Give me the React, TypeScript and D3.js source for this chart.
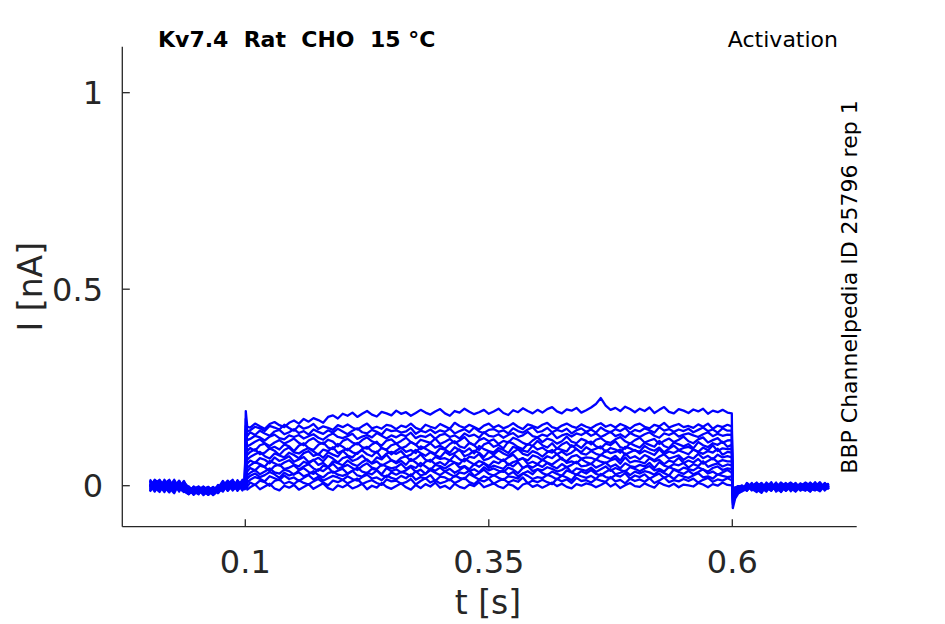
import React from "react";
import * as d3 from "d3";

// ---- sample times (s) ----
const TIME_PRE = [
  0.002, 0.007, 0.012, 0.017, 0.022, 0.027, 0.032, 0.037, 0.042, 0.047, 0.052, 0.057, 0.062, 0.067,
  0.072, 0.077, 0.082, 0.087, 0.092, 0.097, 0.0995,
];
const TIME_STEP = [
  0.1005, 0.102,
  0.105, 0.11, 0.115, 0.12, 0.125, 0.13, 0.135, 0.14, 0.145, 0.15,
  0.155, 0.16, 0.165, 0.17, 0.175, 0.18, 0.185, 0.19, 0.195, 0.2,
  0.205, 0.21, 0.215, 0.22, 0.225, 0.23, 0.235, 0.24, 0.245, 0.25,
  0.255, 0.26, 0.265, 0.27, 0.275, 0.28, 0.285, 0.29, 0.295, 0.3,
  0.305, 0.31, 0.315, 0.32, 0.325, 0.33, 0.335, 0.34, 0.345, 0.35,
  0.355, 0.36, 0.365, 0.37, 0.375, 0.38, 0.385, 0.39, 0.395, 0.4,
  0.405, 0.41, 0.415, 0.42, 0.425, 0.43, 0.435, 0.44, 0.445, 0.45,
  0.455, 0.46, 0.465, 0.47, 0.475, 0.48, 0.485, 0.49, 0.495, 0.5,
  0.505, 0.51, 0.515, 0.52, 0.525, 0.53, 0.535, 0.54, 0.545, 0.55,
  0.555, 0.56, 0.565, 0.57, 0.575, 0.58, 0.585, 0.59, 0.595,
  0.5995,
];
const TIME_POST = [
  0.6005, 0.603, 0.606, 0.61, 0.615, 0.62, 0.625, 0.63, 0.635, 0.64, 0.645, 0.65, 0.655, 0.66, 0.665,
  0.67, 0.675, 0.68, 0.685, 0.69, 0.695, 0.699,
];

// ---- currents (pA), one row per sweep ----
const PRE_TRACES = [
  [6, -12, 14, -4, -17, 9, -7, 3, -18, -5, -13, -22, -8, -16, 2, -6, 11, -3, 8, -10, 3],
  [-14, 8, -3, 13, -6, -19, 5, -11, -2, -21, -12, -4, -23, -13, -7, 5, -4, 12, -2, 6, -8],
  [11, -5, -16, 6, 15, -9, 2, -14, -22, -7, -18, -10, -3, -20, -12, 9, -2, -9, 14, -3, 9],
  [-6, 14, 3, -12, -2, 11, -15, 8, -9, -18, -5, -24, -12, -6, -15, 3, -11, 6, -5, 15, -2],
  [16, -3, 9, -9, 4, -14, 12, -6, -15, -3, -20, -9, -16, -4, -19, -3, 8, -12, 3, -6, 11],
  [-9, 5, -12, 11, -3, 15, -6, -16, -4, -23, -10, -2, -14, -22, -6, 12, -7, 2, -11, 9, -4],
  [3, -15, 7, -2, 13, -8, 6, -10, -19, -9, -3, -16, -23, -10, -2, -9, 5, 15, -6, 2, 8],
  [-2, 11, -9, 15, -11, 3, -4, 12, -12, -21, -7, -15, -6, -18, -9, 6, -13, 3, 9, -8, -3],
  [12, -6, 5, -13, 8, -2, -12, 9, -7, -14, -22, -4, -12, -3, -18, -4, 10, -6, -2, 12, 4],
  [-11, 6, 15, -4, -14, 6, -3, -9, -16, -2, -10, -19, -7, -15, -10, 8, -3, 13, -9, -2, -6],
  [4, -12, 2, 9, -7, 12, -10, 4, -6, -18, -13, -6, -20, -9, -3, -12, 6, -4, 5, -12, 2],
  [-15, 2, -8, -3, 10, -4, 13, -13, -21, -10, -4, -15, -10, -24, -13, 2, -9, 9, -13, 3, -9],
  [13, -7, 10, 3, -9, 2, -8, 6, -3, -12, -18, -9, -3, -13, -6, -15, 3, -7, 12, -4, 6],
  [-4, 9, -13, 0, 6, -12, 8, -3, -10, -22, -9, -16, -13, -4, -16, 4, -12, 0, 6, 10, -3],
  [7, -9, 0, -16, 12, -6, 3, -12, -13, -6, -19, -3, -10, -18, -7, -1, 13, -10, -3, -6, 12],
  [-3, 15, 6, -6, -12, 7, -9, 2, -18, -9, -2, -12, -19, -7, -12, 9, -6, 4, -7, 3, -4],
];

const STEP_TRACES = [
  [190, 150,
    148, 158, 151, 145, 157, 162, 154, 149, 160, 166,
    158, 170, 163, 172, 167, 160, 175, 179, 171, 183,
    178, 186, 175, 183, 190, 181, 176, 188, 184, 179,
    191, 183, 187, 178, 185, 193, 186, 181, 189, 195,
    184, 178, 190, 186, 196, 188, 182, 187, 193, 183,
    189, 196, 185, 180, 192, 187, 197, 190, 184, 193,
    186, 195, 200, 189, 184, 194, 191, 198, 186, 192,
    199, 208, 223, 204, 193, 198, 190, 201, 195, 187,
    196, 190, 199, 185, 193, 200, 188, 184, 195, 191,
    185, 194, 189, 196, 183, 191, 187, 193, 186,
    184],
  [170, 138,
    141, 150, 146, 139, 152, 148, 143, 155, 147, 140,
    153, 145, 149, 157, 144, 151, 147, 142, 154, 149,
    156, 148, 143, 151, 158, 146, 150, 145, 155, 152,
    144, 153, 149, 158, 147, 142, 155, 150, 146, 157,
    151, 145, 160, 152, 147, 155, 149, 143, 153, 158,
    148, 154, 146, 151, 159, 150, 144, 156, 152, 147,
    155, 160, 149, 145, 153, 158, 151, 147, 156, 150,
    146, 154, 159, 150, 155, 148, 157, 152, 145, 154,
    158, 150, 146, 155, 151, 160, 148, 153, 157, 149,
    152, 147, 156, 150, 158, 145, 153, 149, 155,
    151],
  [152, 126,
    136, 129, 140, 133, 127, 138, 142, 131, 136, 144,
    134, 139, 130, 143, 137, 132, 141, 135, 145, 138,
    131, 140, 146, 136, 133, 142, 137, 130, 144, 139,
    141, 135, 138, 147, 132, 140, 136, 143, 134, 141,
    137, 145, 133, 139, 144, 136, 148, 138, 134, 142,
    144, 137, 141, 133, 146, 139, 135, 143, 149, 136,
    139, 147, 136, 142, 138, 145, 133, 141, 146, 137,
    143, 135, 148, 140, 136, 144, 139, 147, 134, 142,
    138, 146, 141, 135, 149, 140, 144, 137, 143, 139,
    145, 136, 142, 148, 139, 143, 135, 146, 140,
    140],
  [142, 116,
    119, 127, 123, 115, 125, 130, 121, 118, 128, 124,
    129, 120, 126, 131, 122, 117, 127, 133, 124, 121,
    126, 132, 119, 125, 129, 123, 134, 127, 120, 128,
    123, 130, 126, 135, 121, 127, 124, 131, 119, 129,
    132, 124, 128, 120, 133, 126, 130, 122, 136, 127,
    125, 131, 122, 129, 134, 124, 128, 137, 126, 123,
    130, 126, 135, 121, 128, 132, 125, 133, 129, 136,
    127, 133, 124, 130, 137, 126, 131, 123, 134, 128,
    124, 131, 136, 127, 122, 133, 129, 135, 125, 130,
    133, 128, 124, 131, 136, 126, 132, 127, 130,
    129],
  [132, 100,
    104, 112, 118, 108, 101, 110, 116, 107, 113, 120,
    109, 103, 115, 121, 111, 106, 117, 112, 100, 114,
    119, 110, 105, 116, 123, 113, 108, 102, 115, 118,
    107, 114, 122, 111, 104, 117, 113, 109, 120, 106,
    112, 119, 108, 115, 124, 110, 103, 116, 121, 113,
    118, 106, 114, 110, 122, 117, 109, 104, 115, 123,
    111, 120, 116, 107, 113, 125, 112, 108, 119, 114,
    105, 117, 121, 112, 109, 118, 124, 113, 107, 116,
    122, 110, 115, 119, 106, 114, 120, 111, 117, 125,
    113, 108, 118, 123, 110, 116, 121, 109, 115,
    116],
  [122, 88,
    96, 89, 103, 107, 94, 99, 92, 105, 100, 88,
    102, 108, 95, 91, 104, 110, 97, 93, 106, 99,
    90, 101, 109, 98, 94, 105, 112, 96, 92, 103,
    107, 95, 100, 111, 104, 93, 99, 108, 97, 102,
    94, 106, 113, 100, 96, 109, 103, 91, 105, 110,
    99, 104, 95, 112, 107, 98, 93, 106, 101, 114,
    103, 97, 108, 94, 105, 111, 99, 104, 96, 109,
    112, 100, 95, 107, 103, 113, 98, 94, 108, 102,
    97, 109, 104, 99, 114, 101, 96, 110, 105, 100,
    106, 95, 111, 103, 98, 108, 104, 112, 99,
    104],
  [112, 78,
    86, 93, 80, 84, 95, 89, 78, 91, 97, 85,
    82, 90, 96, 87, 79, 92, 88, 98, 83, 89,
    94, 85, 81, 93, 99, 88, 84, 96, 90, 80,
    89, 97, 86, 91, 83, 100, 94, 87, 81, 95,
    92, 84, 98, 90, 86, 95, 82, 101, 93, 88,
    85, 96, 91, 83, 99, 94, 89, 86, 102, 92,
    97, 88, 84, 95, 91, 87, 103, 93, 85, 98,
    90, 94, 100, 86, 96, 92, 84, 99, 95, 89,
    87, 101, 93, 89, 97, 85, 94, 102, 91, 96,
    99, 92, 86, 97, 90, 103, 88, 95, 93,
    94],
  [100, 66,
    73, 80, 86, 75, 69, 82, 77, 72, 84, 78,
    70, 83, 88, 76, 81, 71, 85, 79, 74, 89,
    77, 72, 84, 90, 80, 75, 87, 70, 82, 86,
    81, 88, 74, 79, 91, 83, 76, 85, 78, 72,
    86, 78, 83, 92, 75, 80, 89, 84, 73, 87,
    79, 90, 82, 76, 85, 93, 81, 77, 88, 83,
    74, 85, 91, 80, 87, 78, 84, 94, 82, 79,
    88, 81, 77, 90, 83, 86, 92, 79, 85, 91,
    82, 89, 84, 78, 93, 80, 87, 83, 90, 85,
    80, 92, 86, 81, 88, 84, 94, 79, 86,
    84],
  [90, 56,
    64, 58, 70, 66, 57, 72, 63, 68, 75, 61,
    67, 73, 60, 65, 71, 62, 76, 69, 59, 70,
    74, 63, 68, 77, 64, 58, 72, 67, 79, 65,
    60, 71, 75, 63, 69, 80, 66, 61, 73, 68,
    70, 64, 78, 67, 62, 74, 71, 81, 65, 69,
    76, 68, 63, 72, 79, 66, 70, 64, 77, 73,
    65, 75, 70, 81, 67, 62, 74, 78, 69, 72,
    71, 66, 79, 73, 68, 76, 64, 82, 70, 75,
    67, 78, 72, 65, 74, 80, 69, 73, 77, 66,
    74, 69, 81, 70, 76, 67, 79, 72, 75,
    72],
  [80, 46,
    52, 60, 55, 48, 63, 57, 51, 59, 65, 54,
    49, 61, 56, 66, 53, 58, 47, 62, 57, 52,
    64, 55, 50, 60, 67, 56, 62, 51, 58, 65,
    57, 63, 53, 68, 59, 49, 61, 66, 55, 60,
    52, 65, 59, 55, 69, 61, 54, 63, 58, 50,
    62, 57, 67, 53, 60, 64, 70, 56, 61, 55,
    66, 59, 54, 63, 71, 58, 62, 57, 68, 60,
    55, 67, 61, 58, 64, 69, 56, 72, 59, 63,
    61, 57, 70, 62, 66, 55, 64, 60, 71, 58,
    64, 59, 68, 56, 63, 70, 60, 65, 62,
    62],
  [70, 36,
    45, 39, 51, 47, 37, 50, 54, 42, 46, 52,
    41, 49, 55, 44, 38, 51, 47, 56, 43, 48,
    53, 45, 40, 50, 57, 46, 42, 54, 49, 44,
    47, 56, 43, 51, 45, 58, 49, 40, 53, 50,
    44, 52, 59, 46, 50, 42, 55, 48, 57, 45,
    51, 47, 43, 56, 49, 60, 45, 52, 46, 54,
    48, 58, 50, 44, 55, 47, 53, 61, 49, 51,
    56, 46, 52, 59, 48, 54, 44, 57, 50, 47,
    53, 49, 58, 45, 60, 51, 47, 55, 52, 58,
    46, 55, 50, 62, 48, 53, 57, 49, 54,
    52],
  [60, 26,
    33, 40, 29, 36, 44, 34, 31, 41, 37, 28,
    39, 45, 35, 30, 42, 37, 47, 33, 38, 43,
    31, 38, 46, 36, 32, 43, 40, 29, 45, 37,
    42, 34, 39, 48, 35, 41, 30, 44, 38, 46,
    36, 43, 33, 40, 49, 37, 42, 34, 47, 39,
    44, 38, 35, 46, 41, 32, 45, 50, 37, 42,
    39, 47, 43, 36, 40, 48, 34, 44, 41, 38,
    46, 35, 42, 49, 38, 45, 40, 36, 47, 43,
    37, 44, 50, 39, 43, 36, 48, 42, 38, 46,
    42, 39, 47, 41, 36, 45, 49, 40, 44,
    42],
  [52, 18,
    25, 31, 22, 27, 35, 29, 20, 33, 26, 30,
    34, 24, 29, 37, 27, 21, 32, 36, 28, 25,
    30, 38, 26, 23, 33, 29, 39, 27, 22, 34,
    28, 35, 31, 24, 37, 26, 30, 40, 33, 27,
    36, 29, 23, 34, 31, 38, 25, 32, 41, 30,
    26, 33, 39, 28, 35, 24, 31, 37, 29, 42,
    32, 27, 36, 30, 25, 39, 34, 28, 37, 31,
    40, 30, 26, 35, 42, 29, 33, 38, 27, 36,
    31, 37, 34, 28, 39, 32, 26, 41, 35, 30,
    38, 29, 35, 42, 31, 36, 28, 34, 40,
    33],
  [42, 8,
    15, 22, 18, 11, 24, 19, 14, 26, 17, 21,
    12, 20, 27, 16, 23, 13, 19, 25, 21, 15,
    24, 17, 13, 22, 28, 18, 21, 14, 26, 20,
    16, 25, 19, 29, 15, 22, 18, 27, 12, 23,
    21, 14, 26, 20, 17, 30, 23, 16, 24, 19,
    27, 20, 15, 24, 22, 18, 31, 25, 17, 22,
    19, 28, 23, 16, 26, 21, 14, 29, 24, 20,
    25, 17, 30, 22, 19, 27, 23, 32, 18, 26,
    22, 29, 18, 25, 31, 20, 26, 17, 28, 23,
    20, 26, 32, 21, 24, 18, 29, 25, 22,
    24],
  [32, -2,
    8, 2, 13, 9, 0, 12, 16, 5, 10, 4,
    14, 7, 3, 11, 17, 8, 1, 13, 9, 15,
    6, 12, 18, 4, 10, 14, 7, 2, 16, 11,
    13, 5, 9, 17, 3, 12, 19, 8, 14, 6,
    10, 16, 7, 13, 20, 9, 4, 15, 11, 18,
    5, 12, 17, 8, 14, 10, 21, 6, 13, 9,
    15, 9, 4, 18, 11, 16, 7, 20, 12, 14,
    8, 17, 13, 10, 22, 11, 15, 6, 18, 12,
    16, 10, 19, 7, 13, 21, 9, 14, 11, 17,
    12, 18, 8, 15, 20, 10, 16, 13, 19,
    14],
  [22, -10,
    -4, 3, -9, -2, 5, -7, -12, 0, -5, 2,
    -10, -3, 4, -8, -1, 6, -6, -11, 1, -4,
    3, -7, -2, 5, -9, 0, -5, 7, -3, -8,
    -1, 6, -4, -10, 2, -6, 4, -2, 8, -5,
    0, -8, 5, -3, -7, 3, -1, 9, -4, 1,
    6, -2, -6, 4, 0, -9, 3, 7, -3, 2,
    -5, 1, 8, -1, 5, -3, -7, 4, 0, 6,
    3, -4, 2, 9, -2, 5, -6, 1, 7, -1,
    -3, 6, 0, -5, 8, 2, -2, 5, -4, 3,
    1, -2, 7, 3, -4, 4, 0, 8, 2,
    1],
];

const POST_TRACES = [
  [-57, -32, -20, -14, -8, 3, -13, -4, 5, -11, -2, 4, -12, 1, -7, 6, -5, -14, 2, -6, 7, -3],
  [-47, -27, -17, -11, 4, -8, -16, 1, -9, 6, -12, -3, 7, -6, -15, 0, 5, -9, -2, 9, -8, 1],
  [-42, -24, -15, -9, -3, 5, -9, -18, 0, -6, 8, -11, -2, 4, -14, -4, 8, 0, -11, -3, 5, -9],
  [-37, -21, -13, -14, 7, -4, 1, -12, -6, 9, -15, -3, 2, -9, 5, -12, -1, 7, -7, -14, 1, 4],
  [-32, -18, -11, -7, -12, -1, 8, -6, -15, 2, -4, 7, -13, -3, -9, 4, -6, -15, 5, -1, -10, 0],
  [-28, -16, -10, -12, 2, -9, -3, 7, -11, -1, 5, -16, 0, 8, -4, -10, 2, -6, 9, -7, -3, 6],
  [-24, -14, -9, -4, -13, 4, -6, -14, 2, -8, -1, 1, -9, -4, 7, -7, -13, 1, -4, 4, -12, -1],
  [-20, -12, -8, -9, 1, -10, 5, -1, -7, 7, -12, -6, 4, -14, -1, 2, -9, 8, -3, -9, 2, -6],
  [-17, -11, -7, -3, -8, 0, -12, 2, -4, -13, 4, -9, -3, 5, -11, -1, 7, -8, -12, 0, -4, 5],
  [-14, -10, -6, -10, 4, -6, -1, -9, 8, -3, -11, 1, -7, -1, 4, -12, -4, 2, -6, 7, -9, -3],
  [-12, -9, -5, 1, -9, 7, -13, -3, -6, 4, -8, -15, 2, -4, -9, 5, -1, -10, 4, -3, 1, -7],
  [-10, -8, -4, -7, -1, -4, 2, -11, 0, -9, 1, -4, -12, 7, -3, -7, -10, 1, -7, 5, -6, 2],
  [-8, -7, -3, -1, -10, 2, -7, 4, -12, -1, -6, 8, -1, -9, 1, -4, 4, -13, 0, -4, 6, -9],
  [-7, -6, -4, -9, 2, -12, 0, -6, 1, -7, 5, -10, -4, 2, -12, 0, -6, 5, -3, -10, -1, 4],
  [-6, -5, -1, -3, -6, 1, -9, 6, -4, -12, 0, 2, -7, -3, 5, -9, 1, -4, -10, 2, -4, -1],
  [-5, -5, -2, -6, 0, -7, 4, -3, -9, 1, -4, -7, 1, -6, -2, 4, -9, 0, 2, -6, 0, -4],
];

const X_TICKS = [0.1, 0.35, 0.6];
const X_TICK_LABELS = ["0.1", "0.35", "0.6"];
const Y_TICKS = [0, 0.5, 1];
const Y_TICK_LABELS = ["0", "0.5", "1"];

const TITLE = "Kv7.4  Rat  CHO  15 °C";
const PROTOCOL = "Activation";
const SIDE_NOTE = "BBP Channelpedia ID 25796 rep 1";

const W = 945;
const H = 624;
const LEFT = 122.3;
const RIGHT = 856.7;
const TOP = 46.7;
const BOTTOM = 526.7;
const AXIS_COLOR = "#262626";
const FONT = "'DejaVu Sans', sans-serif";

export default function App() {
  const x = d3.scaleLinear().domain([-0.02628, 0.72772]).range([LEFT, RIGHT]);
  const y = d3.scaleLinear().domain([-0.1043, 1.117]).range([BOTTOM, TOP]);

  const times = [...TIME_PRE, ...TIME_STEP, ...TIME_POST];
  const line = d3
    .line<[number, number]>()
    .x((d) => x(d[0]))
    .y((d) => y(d[1] / 1000));

  const paths = STEP_TRACES.map((step, i) => {
    const vals = [...PRE_TRACES[i], ...step, ...POST_TRACES[i]];
    const n = Math.min(vals.length, times.length);
    const pts: [number, number][] = [];
    for (let k = 0; k < n; k++) pts.push([times[k], vals[k]]);
    return line(pts) || "";
  });

  return (
    <svg
      width={W}
      height={H}
      viewBox={`0 0 ${W} ${H}`}
      style={{ position: "absolute", left: 0, top: 0, background: "#fff" }}
    >
      <rect x={0} y={0} width={W} height={H} fill="#ffffff" />
      {paths.map((p, i) => (
        <path key={i} d={p} fill="none" stroke="#0000ff" strokeWidth={2.3} strokeLinejoin="round" />
      ))}

      {/* axes */}
      <line x1={LEFT} y1={TOP} x2={LEFT} y2={BOTTOM} stroke={AXIS_COLOR} strokeWidth={1.3} />
      <line x1={LEFT} y1={BOTTOM} x2={RIGHT} y2={BOTTOM} stroke={AXIS_COLOR} strokeWidth={1.3} />
      {X_TICKS.map((t, i) => (
        <g key={"xt" + i}>
          <line x1={x(t)} x2={x(t)} y1={BOTTOM} y2={BOTTOM - 7.5} stroke={AXIS_COLOR} strokeWidth={1.3} />
          <text x={x(t)} y={572.7} textAnchor="middle" fontFamily={FONT} fontSize={32} fill={AXIS_COLOR}>
            {X_TICK_LABELS[i]}
          </text>
        </g>
      ))}
      {Y_TICKS.map((t, i) => (
        <g key={"yt" + i}>
          <line x1={LEFT} x2={LEFT + 7.5} y1={y(t)} y2={y(t)} stroke={AXIS_COLOR} strokeWidth={1.3} />
          <text x={103} y={y(t) + 11.5} textAnchor="end" fontFamily={FONT} fontSize={32} fill={AXIS_COLOR}>
            {Y_TICK_LABELS[i]}
          </text>
        </g>
      ))}

      {/* axis labels */}
      <text x={488} y={614} textAnchor="middle" fontFamily={FONT} fontSize={33} fill={AXIS_COLOR}>
        t [s]
      </text>
      <text
        transform={`translate(42,${(TOP + BOTTOM) / 2}) rotate(-90)`}
        textAnchor="middle"
        fontFamily={FONT}
        fontSize={33}
        fill={AXIS_COLOR}
      >
        I [nA]
      </text>

      {/* titles */}
      <text x={158} y={46.7} fontFamily={FONT} fontSize={22} fontWeight="bold" fill="#000">
        {TITLE.replace(/ /g, "\u00a0")}
      </text>
      <text x={838} y={46.7} textAnchor="end" fontFamily={FONT} fontSize={22} fill="#000">
        {PROTOCOL}
      </text>
      <text
        transform={`translate(857,${(100 + 474) / 2}) rotate(-90)`}
        textAnchor="middle"
        fontFamily={FONT}
        fontSize={22}
        fill="#000"
      >
        {SIDE_NOTE}
      </text>
    </svg>
  );
}
